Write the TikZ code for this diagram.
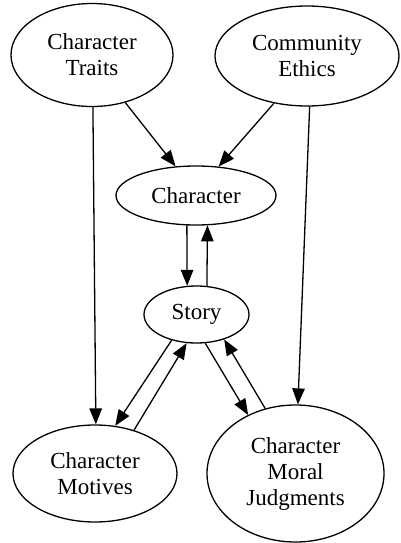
\documentclass[tikz,border=0pt]{standalone}
\usepackage{fontspec}
\setmainfont{Liberation Serif}
\usetikzlibrary{arrows.meta,shapes.geometric}
\tikzset{
  gnode/.style={draw=black, line width=1.3pt, ellipse, inner sep=0pt, align=center,
    font=\fontsize{23}{26}\selectfont},
  garrow/.style={draw=black, line width=1.3pt, -{Triangle[length=16pt, width=12.5pt]}}
}
\begin{document}
\begin{tikzpicture}[x=1pt, y=-1pt]
\useasboundingbox (0,0) rectangle (401,543);
\node[gnode, minimum width=162pt, minimum height=103pt] (ct) at (92,55) {Character\\Traits};
\node[gnode, minimum width=184pt, minimum height=100pt] (ce) at (307,56) {Community\\Ethics};
\node[gnode, minimum width=160pt, minimum height=59pt] (ch) at (196,195.5) {Character};
\node[gnode, minimum width=105pt, minimum height=57pt] (st) at (196.5,314.5) {Story};
\node[gnode, minimum width=164pt, minimum height=97pt] (mo) at (95,473.5) {Character\\Motives};
\node[gnode, minimum width=177pt, minimum height=137pt] (mj) at (295.5,473.5) {Character\\Moral\\Judgments};

\draw[garrow] (ct.-55) -- (ch.125);
\draw[garrow] (ce.-125) -- (ch.52);
\draw[garrow] (ct.-89) -- (mo.89);
\draw[garrow] (ce.-87) -- (mj.88);
\draw[garrow] (ch.-107) -- (st.108);
\draw[garrow] (st.70) -- (ch.-69.5);
\draw[garrow] (st.-134) -- (mo.67);
\draw[garrow] (mo.48.6) -- (st.-109);
\draw[garrow] (st.-73) -- (mj.129);
\draw[garrow] (mj.115) -- (st.-42);
\end{tikzpicture}
\end{document}
